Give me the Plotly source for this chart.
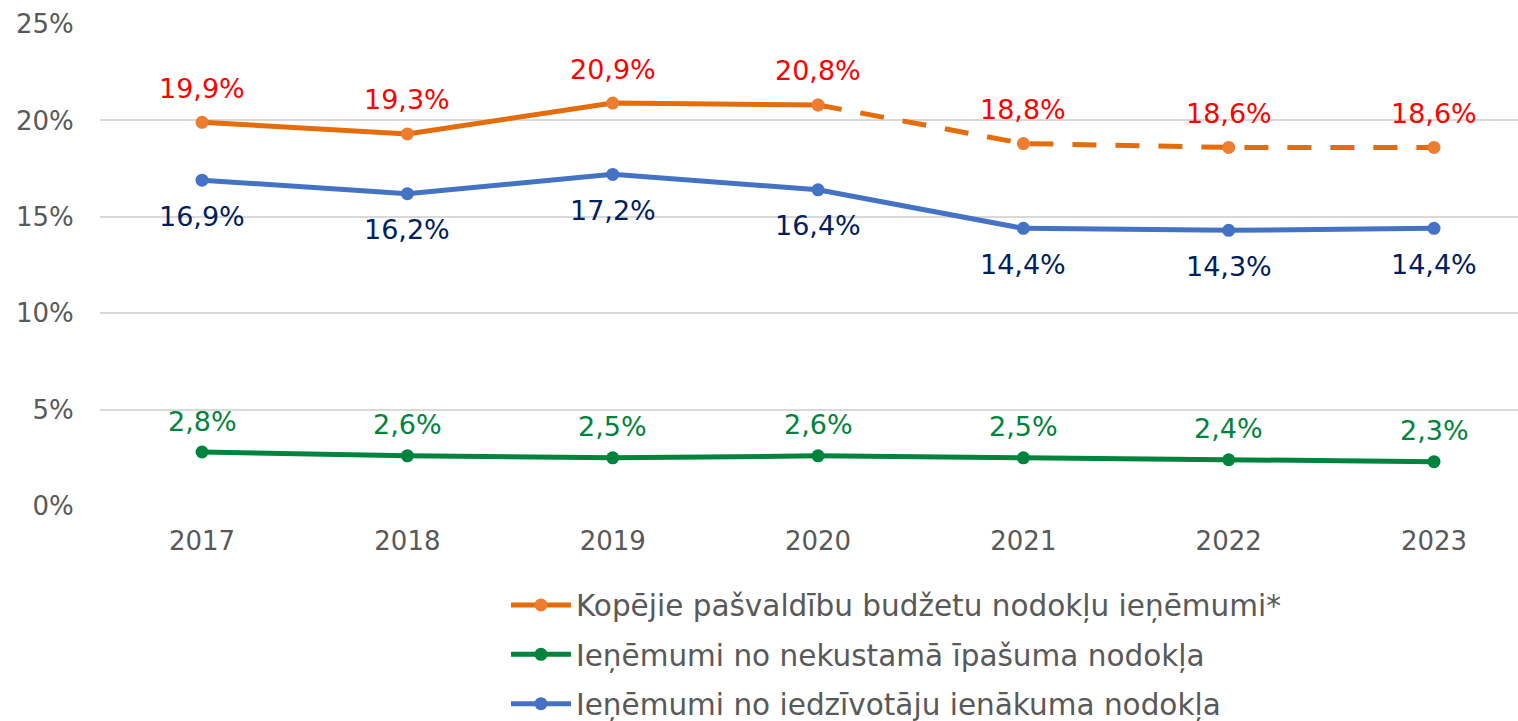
import plotly.graph_objects as go

years = ["2017", "2018", "2019", "2020", "2021", "2022", "2023"]
total_tax = [19.9, 19.3, 20.9, 20.8, 18.8, 18.6, 18.6]
property_tax = [2.8, 2.6, 2.5, 2.6, 2.5, 2.4, 2.3]
income_tax = [16.9, 16.2, 17.2, 16.4, 14.4, 14.3, 14.4]
y_ticks = [0, 5, 10, 15, 20, 25]
y_tick_labels = ["0%", "5%", "10%", "15%", "20%", "25%"]

name_total = "Kopējie pašvaldību budžetu nodokļu ieņēmumi*"
name_property = "Ieņēmumi no nekustamā īpašuma nodokļa"
name_income = "Ieņēmumi no iedzīvotāju ienākuma nodokļa"

FONT = "Verdana, DejaVu Sans, sans-serif"
ORANGE_LINE = "#E46C0A"
ORANGE_MK = "#ED7D31"
GREEN = "#00843D"
BLUE = "#4472C4"

fig = go.Figure()

fig.add_trace(go.Scatter(
    x=years[:4], y=total_tax[:4], mode="lines+markers", name=name_total,
    line=dict(color=ORANGE_LINE, width=5),
    marker=dict(color=ORANGE_MK, size=13),
    legendgroup="a", legendrank=1,
))
fig.add_trace(go.Scatter(
    x=years[3:], y=total_tax[3:], mode="lines+markers", name=name_total,
    line=dict(color=ORANGE_LINE, width=5, dash="24px,19px"),
    marker=dict(color=ORANGE_MK, size=13),
    legendgroup="a", showlegend=False,
))
fig.add_trace(go.Scatter(
    x=years, y=property_tax, mode="lines+markers", name=name_property,
    line=dict(color=GREEN, width=5),
    marker=dict(color=GREEN, size=13),
    legendgroup="b", legendrank=2,
))
fig.add_trace(go.Scatter(
    x=years, y=income_tax, mode="lines+markers", name=name_income,
    line=dict(color=BLUE, width=5),
    marker=dict(color=BLUE, size=13),
    legendgroup="c", legendrank=3,
))

def fmt(v):
    return f"{v:.1f}".replace(".", ",") + "%"

annotations = []
for i, v in enumerate(total_tax):
    annotations.append(dict(x=i, y=v, xref="x", yref="y", text=fmt(v), showarrow=False, yshift=34,
                            yanchor="middle", font=dict(color="#FF0000", size=27, family=FONT)))
for i, v in enumerate(income_tax):
    annotations.append(dict(x=i, y=v, xref="x", yref="y", text=fmt(v), showarrow=False, yshift=-36,
                            yanchor="middle", font=dict(color="#002060", size=27, family=FONT)))
for i, v in enumerate(property_tax):
    annotations.append(dict(x=i, y=v, xref="x", yref="y", text=fmt(v), showarrow=False, yshift=31,
                            yanchor="middle", font=dict(color=GREEN, size=27, family=FONT)))

fig.update_layout(
    width=1518, height=721,
    margin=dict(l=100, r=0, t=24, b=215, autoexpand=False),
    paper_bgcolor="white", plot_bgcolor="white",
    font=dict(family=FONT, size=26, color="#595959"),
    annotations=annotations,
    showlegend=True,
    legend=dict(
        x=0.2863, xanchor="left", y=-0.152, yanchor="top",
        font=dict(size=29.5, color="#595959", family=FONT),
        tracegroupgap=8, itemwidth=60, bgcolor="rgba(0,0,0,0)",
    ),
    xaxis=dict(
        type="category", range=[-0.497, 6.409], automargin=False,
        showgrid=False, zeroline=False, showline=False,
        ticks="outside", ticklen=12, tickcolor="rgba(0,0,0,0)",
        tickfont=dict(size=26, color="#595959", family=FONT),
    ),
    yaxis=dict(
        range=[0, 25], tickvals=y_ticks, ticktext=y_tick_labels, automargin=False,
        showgrid=True, gridcolor="#D9D9D9", gridwidth=1.5,
        zeroline=False, showline=False,
        ticks="outside", ticklen=20, tickcolor="rgba(0,0,0,0)",
        tickfont=dict(size=26, color="#595959", family=FONT),
    ),
)

fig.write_html(
    "out.html",
    config={"displayModeBar": False},
    post_script="document.body.style.margin='0';document.body.style.overflow='hidden';",
)
